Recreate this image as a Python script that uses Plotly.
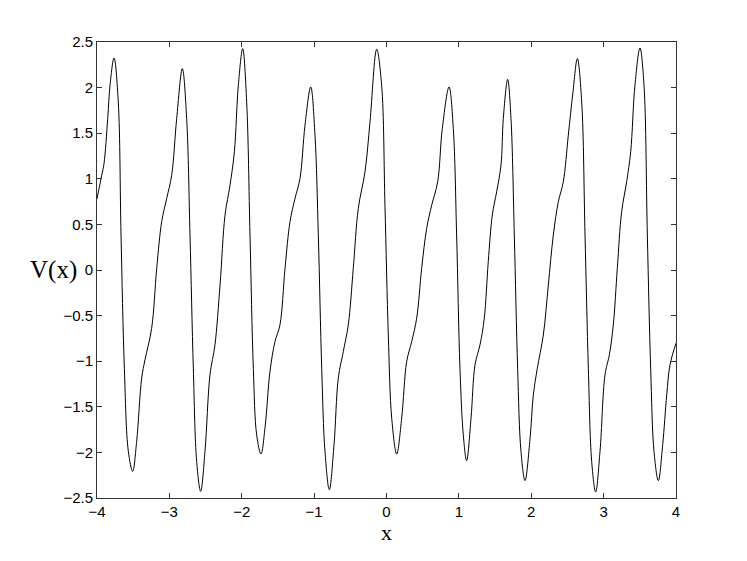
import plotly.graph_objects as go

x_vals = [
    -4.0, -3.935, -3.903, -3.852, -3.820, -3.765, -3.706, -3.668, -3.622, -3.567,
    -3.507, -3.452, -3.383, -3.337, -3.245, -3.175, -3.106, -3.037, -2.968, -2.899,
    -2.821, -2.761, -2.715, -2.669, -2.623, -2.568, -2.508, -2.439, -2.370, -2.300,
    -2.231, -2.162, -2.102, -2.047, -1.987, -1.932, -1.886, -1.840, -1.794, -1.734,
    -1.679, -1.610, -1.541, -1.472, -1.402, -1.333, -1.264, -1.195, -1.126, -1.047,
    -0.988, -0.942, -0.895, -0.850, -0.790, -0.725, -0.666, -0.597, -0.528, -0.459,
    -0.390, -0.297, -0.228, -0.136, -0.067, -0.021, 0.025, 0.072, 0.141, 0.210,
    0.279, 0.348, 0.417, 0.486, 0.555, 0.625, 0.707, 0.771, 0.864, 0.923,
    0.969, 1.015, 1.061, 1.107, 1.168, 1.223, 1.292, 1.351, 1.406, 1.462,
    1.522, 1.582, 1.614, 1.674, 1.720, 1.766, 1.812, 1.858, 1.914, 1.983,
    2.029, 2.084, 2.167, 2.236, 2.305, 2.374, 2.443, 2.512, 2.576, 2.637,
    2.697, 2.743, 2.789, 2.835, 2.890, 2.950, 3.019, 3.079, 3.134, 3.189,
    3.249, 3.318, 3.374, 3.433, 3.502, 3.558, 3.604, 3.650, 3.696, 3.756,
    3.816, 3.872, 3.917, 4.0,
]
v_vals = [
    0.78, 1.04, 1.168, 1.66, 2.026, 2.325, 1.843, 0.383, -1.077, -1.989,
    -2.208, -1.88, -1.186, -0.985, -0.64, 0.018, 0.53, 0.785, 1.04, 1.66,
    2.208, 1.66, 0.383, -1.077, -2.1, -2.427, -1.989, -1.15, -0.82, -0.165,
    0.602, 0.93, 1.296, 2.026, 2.427, 1.843, 0.383, -1.077, -1.807, -2.018,
    -1.734, -1.113, -0.785, -0.602, 0.018, 0.53, 0.785, 1.004, 1.588, 2.007,
    1.478, 0.383, -1.077, -1.989, -2.409, -1.916, -1.186, -0.894, -0.602, 0.018,
    0.675, 1.077, 1.624, 2.42, 2.026, 0.7, -0.712, -1.624, -2.018, -1.624,
    -1.004, -0.785, -0.529, 0.018, 0.456, 0.712, 0.967, 1.551, 2.007, 1.551,
    0.383, -1.077, -1.807, -2.091, -1.624, -1.04, -0.82, -0.529, 0.091, 0.602,
    0.858, 1.15, 1.66, 2.091, 1.66, 0.383, -1.077, -1.989, -2.31, -1.85,
    -1.369, -1.077, -0.712, -0.164, 0.383, 0.748, 0.967, 1.478, 1.95, 2.318,
    1.843, 0.383, -1.077, -2.099, -2.434, -1.989, -1.15, -0.93, -0.602, 0.018,
    0.639, 0.967, 1.296, 2.026, 2.434, 2.026, 0.383, -1.077, -1.989, -2.31,
    -1.916, -1.369, -1.04, -0.803,
]

x_ticks = [-4, -3, -2, -1, 0, 1, 2, 3, 4]
y_ticks = [-2.5, -2, -1.5, -1, -0.5, 0, 0.5, 1, 1.5, 2, 2.5]
y_tick_text = ["\u22122.5", "\u22122", "\u22121.5", "\u22121", "\u22120.5", "0",
               "0.5", "1", "1.5", "2", "2.5"]
x_tick_text = ["\u22124", "\u22123", "\u22122", "\u22121", "0", "1", "2", "3", "4"]

fig = go.Figure()
fig.add_trace(go.Scatter(
    x=x_vals, y=v_vals, mode="lines",
    line=dict(color="black", width=1, shape="spline", smoothing=1.0),
    hoverinfo="skip", showlegend=False,
))

axis_common = dict(
    showgrid=False, zeroline=False, showline=True, linecolor="#333333",
    linewidth=1, mirror="ticks", ticks="inside", ticklen=5, tickcolor="#333333",
    tickfont=dict(family="Liberation Sans, Arial, sans-serif", size=15, color="black"),
)

serif = "Liberation Serif, Times New Roman, serif"

# page body has an 8px margin, so the figure is drawn 8px right/down
fig.update_layout(
    width=739, height=553,
    margin=dict(l=89, r=71, t=34, b=63),
    paper_bgcolor="white", plot_bgcolor="white",
    xaxis=dict(range=[-4, 4], tickvals=x_ticks, ticktext=x_tick_text, **axis_common),
    yaxis=dict(range=[-2.5, 2.5], tickvals=y_ticks, ticktext=y_tick_text, **axis_common),
    annotations=[
        dict(text="V(x)", x=(53 - 97) / 579, y=0, xref="paper", yref="y",
             showarrow=False, xanchor="center", yanchor="middle",
             font=dict(family=serif, size=25, color="black")),
        dict(text="x", x=0.5, y=-21 / 456, xref="paper", yref="paper",
             showarrow=False, xanchor="center", yanchor="top", borderpad=0,
             font=dict(family=serif, size=22, color="black")),
    ],
)

fig.write_html("out.html")
